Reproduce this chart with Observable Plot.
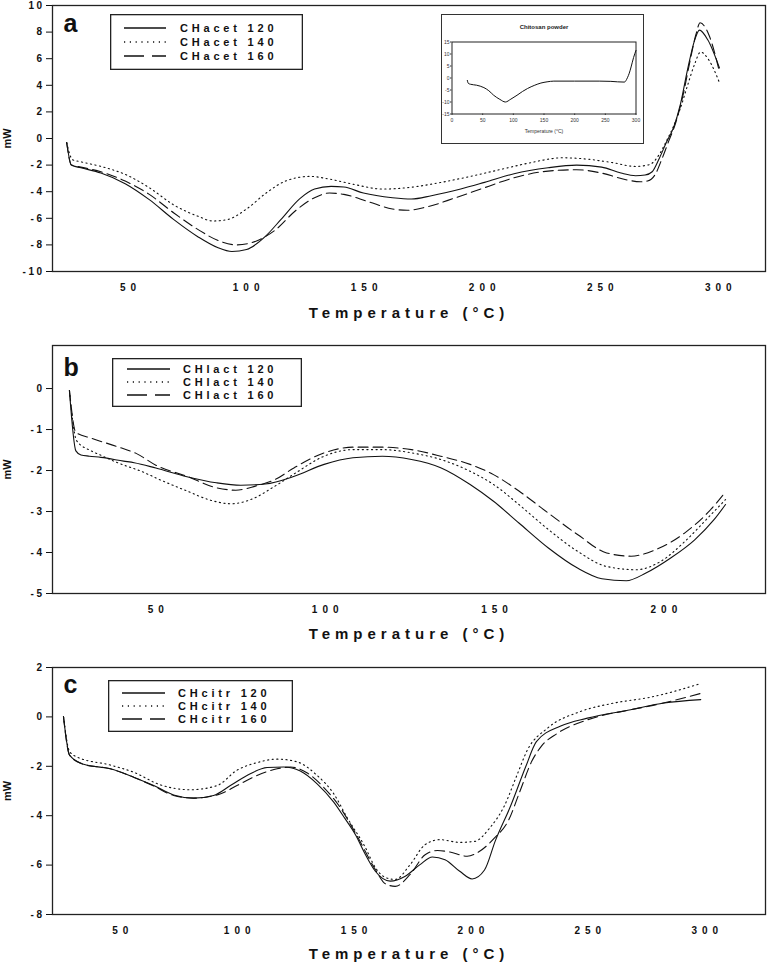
<!DOCTYPE html>
<html><head><meta charset="utf-8">
<script src="https://cdn.jsdelivr.net/npm/d3@7"></script>
<script src="https://cdn.jsdelivr.net/npm/@observablehq/plot@0.6"></script>
<style>
body{margin:0;background:#fff;}
#fig{position:relative;width:767px;height:964px;font-family:"Liberation Sans",Arial,sans-serif;}
#fig > svg{display:block;}
.ov{position:absolute;}
</style></head><body><div id="fig"></div>
<script>
// ---------- Panel a : CHacet ----------
const aNames = ["CHacet 120", "CHacet 140", "CHacet 160"];
const aT120 = [24, 26, 30, 38.5, 48.8, 59, 69.4, 79.7, 87.9, 94, 100.2, 108.5, 114.7, 122.9, 129, 136, 141.4, 149.7, 162, 170, 178.5, 190.9, 201, 213.5, 227.9, 240, 250.6, 258.8, 265, 269, 272, 275, 278, 281, 284, 287, 290, 292, 295.6, 300.5];
const aV120 = [-0.3, -2.0, -2.2, -2.6, -3.4, -4.6, -6.1, -7.4, -8.2, -8.5, -8.35, -7.3, -6.1, -4.5, -3.8, -3.6, -3.65, -4.1, -4.45, -4.55, -4.3, -3.8, -3.3, -2.65, -2.2, -2.0, -2.15, -2.6, -2.8, -2.75, -2.5, -1.5, -0.3, 0.8, 2.6, 5.2, 7.4, 8.15, 7.4, 5.3];
const aT140 = [24, 26.5, 30, 38.5, 48.8, 59, 69.4, 79.7, 85.8, 92, 100.2, 108.5, 116.7, 127, 135.3, 145.6, 157.9, 168.2, 182.6, 195, 207.3, 219.7, 234.1, 244.4, 254.7, 265, 271, 275, 278, 281, 284, 287, 290, 292.5, 296, 300.5];
const aV140 = [-0.3, -1.6, -1.75, -2.1, -2.7, -3.7, -5.0, -5.85, -6.2, -6.1, -5.3, -4.1, -3.2, -2.85, -3.05, -3.45, -3.8, -3.7, -3.3, -2.85, -2.35, -1.85, -1.45, -1.55, -1.8, -2.1, -1.95, -1.2, -0.2, 0.9, 2.3, 4.0, 5.6, 6.5, 5.9, 4.2];
const aT160 = [24, 26, 30, 38.5, 48.8, 59, 69.4, 79.7, 87.9, 96.1, 104.4, 112.6, 120.8, 129, 135.3, 141.4, 151.7, 162, 168.2, 176.4, 188.8, 201, 213.5, 227.9, 240, 250.6, 260.9, 267, 270, 273.3, 276, 279, 282, 285, 288, 290.5, 292.3, 296, 300.5];
const aV160 = [-0.3, -2.0, -2.15, -2.5, -3.2, -4.2, -5.6, -6.85, -7.65, -8.0, -7.7, -6.85, -5.45, -4.45, -4.1, -4.2, -4.75, -5.3, -5.4, -5.15, -4.45, -3.7, -2.95, -2.45, -2.35, -2.6, -3.1, -3.25, -3.2, -2.7, -1.6, -0.2, 1.2, 3.2, 5.8, 7.8, 8.7, 7.8, 5.0];
const aXTicks = [50, 100, 150, 200, 250, 300];
const aYTicks = [-10, -8, -6, -4, -2, 0, 2, 4, 6, 8, 10];

// ---------- Inset : Chitosan powder ----------
const insetT = [25, 26.5, 30, 40, 52, 60, 68, 78, 87, 96, 106, 115, 123, 135, 145, 155, 166, 200, 240, 259, 270, 281, 286, 289, 292, 296, 300];
const insetV = [-1.0, -2.2, -2.6, -3.0, -4.0, -5.3, -7.2, -8.9, -10.0, -8.8, -7.2, -5.6, -4.4, -3.0, -2.1, -1.6, -1.3, -1.3, -1.3, -1.4, -1.6, -1.7, 0.1, 2.0, 4.6, 8.5, 11.5];
const insetXTicks = [0, 50, 100, 150, 200, 250, 300];
const insetYTicks = [-15, -10, -5, 0, 5, 10, 15];

// ---------- Panel b : CHlact ----------
const bNames = ["CHlact 120", "CHlact 140", "CHlact 160"];
const bT120 = [24.5, 26.4, 27.9, 30.4, 33.8, 40.5, 43.6, 50, 59.2, 67.9, 75.1, 82.3, 90.9, 99.7, 108.2, 116.9, 125.5, 134.1, 142.8, 149.7, 157.2, 165.9, 174.5, 181.7, 188.9, 194.7, 201.9, 209.1, 214.8, 218.2];
const bV120 = [-0.05, -1.52, -1.62, -1.65, -1.68, -1.77, -1.81, -1.94, -2.15, -2.30, -2.36, -2.33, -2.14, -1.85, -1.69, -1.65, -1.73, -1.93, -2.34, -2.75, -3.28, -3.89, -4.38, -4.64, -4.69, -4.50, -4.14, -3.69, -3.2, -2.83];
const bT140 = [24.5, 26.6, 30.9, 33.3, 38.7, 46.6, 50, 59.2, 66.4, 72.2, 78, 85.2, 90.9, 99.7, 108.2, 116.9, 125.5, 134.1, 142.8, 149.7, 157.2, 165.9, 174.5, 183.1, 191.8, 199, 206.2, 213.4, 218.2];
const bV140 = [-0.05, -1.27, -1.52, -1.61, -1.81, -2.05, -2.18, -2.5, -2.73, -2.81, -2.71, -2.38, -2.08, -1.65, -1.49, -1.49, -1.57, -1.73, -2.02, -2.34, -2.83, -3.44, -3.97, -4.34, -4.42, -4.22, -3.73, -3.12, -2.71];
const bT160 = [24.5, 26.4, 30.9, 38.7, 44.6, 50, 59.2, 67.9, 73.6, 79.4, 85.2, 90.9, 99.7, 108.2, 116.9, 125.5, 134.1, 142.8, 149.7, 157.2, 165.9, 174.5, 183.1, 190.3, 197.6, 206.2, 213.4, 218.2];
const bV160 = [-0.05, -1.07, -1.21, -1.42, -1.6, -1.87, -2.14, -2.42, -2.48, -2.38, -2.22, -1.93, -1.57, -1.43, -1.43, -1.49, -1.65, -1.85, -2.1, -2.5, -3.04, -3.56, -4.01, -4.09, -3.93, -3.52, -2.99, -2.52];
const bXTicks = [50, 100, 150, 200];
const bYTicks = [-5, -4, -3, -2, -1, 0];

// ---------- Panel c : CHcitr ----------
const cNames = ["CHcitr 120", "CHcitr 140", "CHcitr 160"];
const cT120 = [25.7, 28.3, 34.3, 45.7, 55.7, 64.3, 72.8, 81.4, 89.9, 97.1, 105.6, 112.8, 119.9, 127, 134.2, 141.3, 146, 150.6, 154.9, 159.1, 165.5, 171.9, 178.2, 183.5, 188.9, 195.2, 200.5, 205.8, 210.5, 217, 223.5, 228, 238.4, 249.8, 268.3, 282.6, 298.3];
const cV120 = [0.01, -1.55, -1.92, -2.1, -2.44, -2.78, -3.16, -3.29, -3.18, -2.78, -2.3, -2.05, -2.03, -2.19, -2.71, -3.45, -4.1, -4.77, -5.58, -6.25, -6.65, -6.45, -5.98, -5.67, -5.78, -6.25, -6.56, -6.2, -5.0, -3.6, -2.0, -1.0, -0.37, -0.05, 0.29, 0.56, 0.7];
const cT140 = [25.7, 28.3, 31.4, 45.7, 55.7, 67.1, 80, 91.4, 99.9, 108.5, 117.1, 125.6, 134.2, 141.3, 147, 154.9, 159.1, 163.4, 167.6, 174, 180.4, 186.7, 195.2, 201.6, 208, 214.3, 219.5, 224.1, 232.7, 246.9, 261.2, 276.9, 298.3];
const cV140 = [0.01, -1.4, -1.62, -1.95, -2.24, -2.75, -2.95, -2.78, -2.16, -1.85, -1.71, -1.82, -2.37, -3.11, -4.07, -5.3, -6.1, -6.5, -6.58, -5.98, -5.17, -4.97, -5.08, -5.04, -4.5, -3.6, -2.4, -1.35, -0.46, 0.22, 0.56, 0.8, 1.35];
const cT160 = [25.7, 28.3, 34.3, 45.7, 55.7, 64.3, 72.8, 81.4, 92.7, 99.9, 108.5, 117.1, 122.8, 129.8, 136.9, 144, 150.6, 159.1, 163.4, 167.6, 174, 180.4, 185.7, 191, 198.4, 203.7, 210.1, 216, 221, 226, 230, 236.9, 249.8, 268.3, 275.5, 298.3];
const cV160 = [0.01, -1.55, -1.92, -2.1, -2.44, -2.8, -3.18, -3.29, -3.12, -2.78, -2.37, -2.1, -2.03, -2.26, -2.84, -3.66, -4.7, -6.18, -6.76, -6.86, -6.38, -5.58, -5.41, -5.47, -5.64, -5.44, -4.9, -4.2, -3.0, -1.8, -1.2, -0.67, -0.12, 0.29, 0.42, 0.95];
const cXTicks = [50, 100, 150, 200, 250, 300];
const cYTicks = [-8, -6, -4, -2, 0, 2];

// ---------- helpers ----------
const FONT = '"Liberation Sans", Arial, sans-serif';
const LINE_DASH = [null, "1.2,3.4", "10,5"];
const LEG_DASH = [null, "1.2,4.6", "20,8"];
const rows = (T, V) => T.map((t, i) => ({T: t, mW: V[i]}));
const fig = document.getElementById("fig");

function makePanel(cfg) {
  const lines = cfg.series.map((s, i) => Plot.line(s, {
    x: "T", y: "mW", stroke: "#111", strokeWidth: 1.1,
    strokeDasharray: LINE_DASH[i] || undefined, curve: "monotone-x"
  }));
  const svg = Plot.plot({
    width: 767, height: cfg.height,
    marginTop: cfg.mt, marginBottom: cfg.mb, marginLeft: 52, marginRight: 2,
    style: {fontFamily: FONT, fontSize: "10px", color: "#111", background: "#fff", overflow: "visible"},
    x: {domain: cfg.xDomain},
    y: {domain: cfg.yDomain},
    marks: [
      Plot.frame({stroke: "#222", strokeWidth: 1.3}),
      Plot.axisY({ticks: cfg.yTicks, tickSize: 6, tickPadding: 2, tickFormat: d => String(d),
        label: "mW", labelAnchor: "center", labelOffset: 49, labelArrow: "none"}),
      Plot.axisX({ticks: cfg.xTicks, tickSize: 0, tickPadding: 12, tickFormat: d => String(d),
        label: "Temperature (°C)", labelAnchor: "center", labelOffset: cfg.labelOffset, labelArrow: "none"}),
      ...lines,
      Plot.text([cfg.tag], {frameAnchor: "top-left", dx: 11, dy: cfg.tagDy, text: d => d,
        fontSize: 25, fontWeight: "bold", textAnchor: "start", lineAnchor: "bottom", fill: "#111"})
    ]
  });
  const s = d3.select(svg);
  s.selectAll('g[aria-label="y-axis tick label"]').attr("font-weight", "bold").style("letter-spacing", "2.5px");
  s.selectAll('g[aria-label="x-axis tick label"]').attr("font-weight", "bold").style("letter-spacing", "5px")
    .selectAll("text").attr("dx", 2.5);
  s.selectAll('g[aria-label="x-axis label"]').attr("font-weight", "bold")
    .attr("font-family", '"Liberation Sans Narrow", "Liberation Sans", Arial, sans-serif')
    .attr("font-size", 15).style("letter-spacing", "5px");
  s.selectAll('g[aria-label="y-axis label"]').attr("font-weight", "bold").attr("font-size", 11);
  fig.appendChild(svg);
}

function makeLegend(left, top, w, h, rowYs, x0, x1, tx, names) {
  const svg = d3.create("svg").attr("width", w).attr("height", h)
    .attr("class", "ov").style("left", left + "px").style("top", top + "px");
  svg.append("rect").attr("x", 0.65).attr("y", 0.65).attr("width", w - 1.3).attr("height", h - 1.3)
    .attr("fill", "#fff").attr("stroke", "#222").attr("stroke-width", 1.3);
  names.forEach((n, i) => {
    svg.append("line").attr("x1", x0).attr("x2", x1).attr("y1", rowYs[i]).attr("y2", rowYs[i])
      .attr("stroke", "#111").attr("stroke-width", 1.3)
      .attr("stroke-dasharray", LEG_DASH[i]);
    svg.append("text").attr("x", tx).attr("y", rowYs[i] + 4).text(n)
      .attr("font-family", FONT).attr("font-size", 11).attr("font-weight", "bold")
      .attr("fill", "#111").style("letter-spacing", "3.8px");
  });
  fig.appendChild(svg.node());
}

// ---------- panels ----------
makePanel({
  series: [rows(aT120, aV120), rows(aT140, aV140), rows(aT160, aV160)],
  height: 322, mt: 5, mb: 51, xDomain: [18, 320], yDomain: [-10, 10],
  xTicks: aXTicks, yTicks: aYTicks, labelOffset: 46, tag: "a", tagDy: 26
});
makePanel({
  series: [rows(bT120, bV120), rows(bT140, bV140), rows(bT160, bV160)],
  height: 321, mt: 23, mb: 50, xDomain: [19.5, 230], yDomain: [-5, 1.05],
  xTicks: bXTicks, yTicks: bYTicks, labelOffset: 45, tag: "b", tagDy: 30
});
makePanel({
  series: [rows(cT120, cV120), rows(cT140, cV140), rows(cT160, cV160)],
  height: 321, mt: 24, mb: 50, xDomain: [21, 326], yDomain: [-8, 2],
  xTicks: cXTicks, yTicks: cYTicks, labelOffset: 44, tag: "c", tagDy: 25
});

makeLegend(110, 14, 193, 56, [14, 28, 42], 14, 56, 70, aNames);
makeLegend(112, 358, 190, 49, [11, 24, 37], 15, 58, 71, bNames);
makeLegend(108, 680, 185, 52, [13, 26, 39], 14, 57, 70, cNames);

// ---------- inset ----------
const insetBox = document.createElement("div");
insetBox.className = "ov";
Object.assign(insetBox.style, {left: "441px", top: "14px", width: "203px", height: "130px",
  border: "1.5px solid #333", boxSizing: "border-box", background: "#fff"});
const inset = Plot.plot({
  width: 200, height: 127, marginTop: 26.5, marginBottom: 28.5, marginLeft: 9.5, marginRight: 6.5,
  style: {fontFamily: FONT, fontSize: "5px", color: "#333", background: "#fff", overflow: "visible", display: "block"},
  x: {domain: [0, 300]}, y: {domain: [-15, 15]},
  marks: [
    Plot.frame({stroke: "#222", strokeWidth: 1}),
    Plot.axisY({ticks: insetYTicks, tickSize: 1.5, tickPadding: 1, tickFormat: d => String(d), label: null}),
    Plot.axisX({ticks: insetXTicks, tickSize: 1.5, tickPadding: 3, tickFormat: d => String(d),
      label: "Temperature (°C)", labelAnchor: "center", labelOffset: 19, labelArrow: "none"}),
    Plot.line(rows(insetT, insetV), {x: "T", y: "mW", stroke: "#111", strokeWidth: 1, curve: "monotone-x"}),
    Plot.text(["Chitosan powder"], {frameAnchor: "top", dy: -17, text: d => d, fontSize: 6, fontWeight: "bold", fill: "#222"})
  ]
});
insetBox.appendChild(inset);
fig.appendChild(insetBox);
</script></body></html>
